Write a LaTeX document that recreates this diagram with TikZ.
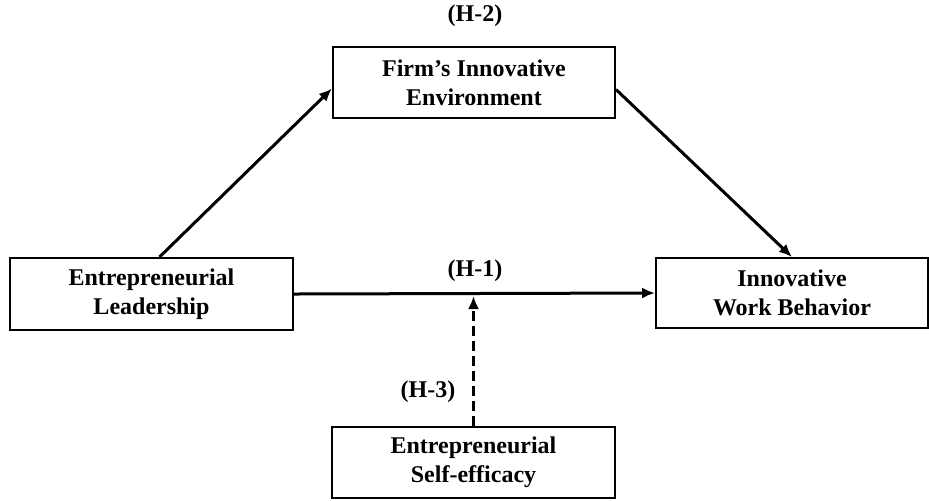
\documentclass[tikz,border=0pt]{standalone}
\usepackage{fontspec}
\setmainfont{Liberation Serif}
\usetikzlibrary{arrows.meta}

\begin{document}
\begin{tikzpicture}[x=0.5pt, y=-0.5pt,
        varbox/.style={draw=black, line width=1pt, align=center, inner sep=2pt,
            font=\bfseries\fontsize{12}{14.5}\selectfont},
        hyplabel/.style={font=\bfseries\fontsize{12}{14.5}\selectfont},
        path/.style={line width=1.5pt, -{Latex[length=6.5pt, width=5.5pt]}}]
        \useasboundingbox (0, 0) rectangle (929, 500);

        \node (lead) at (151.5, 294)[varbox, minimum width=141.5pt, minimum height=36pt] {Entrepreneurial\\Leadership};
        \node (firm) at (474, 82.5)[varbox, minimum width=141pt, minimum height=35.5pt] {Firm’s Innovative\\Environment};
        \node (iwb) at (792, 293)[varbox, minimum width=136pt, minimum height=35pt] {Innovative\\Work Behavior};
        \node (self) at (473.5, 462.5)[varbox, minimum width=141.5pt, minimum height=35.5pt] {Entrepreneurial\\Self-efficacy};

        \node (h2) at (475, 16)[hyplabel] {(H-2)};
        \node (h1) at (475, 271)[hyplabel] {(H-1)};
        \node (h3) at (428, 392)[hyplabel] {(H-3)};

        \coordinate (mod) at (473.5, 296);

        \draw[path] ([xshift=4pt]lead.north) -- ([yshift=-3pt]firm.west);
        \draw[path] ([yshift=-3.5pt]firm.east) -- (iwb.north);
        \draw[path] (lead.east) -- (iwb.west);
        \draw[path, dash pattern=on 5pt off 2.5pt] (self.north) -- (mod);
    \end{tikzpicture}
\end{document}
